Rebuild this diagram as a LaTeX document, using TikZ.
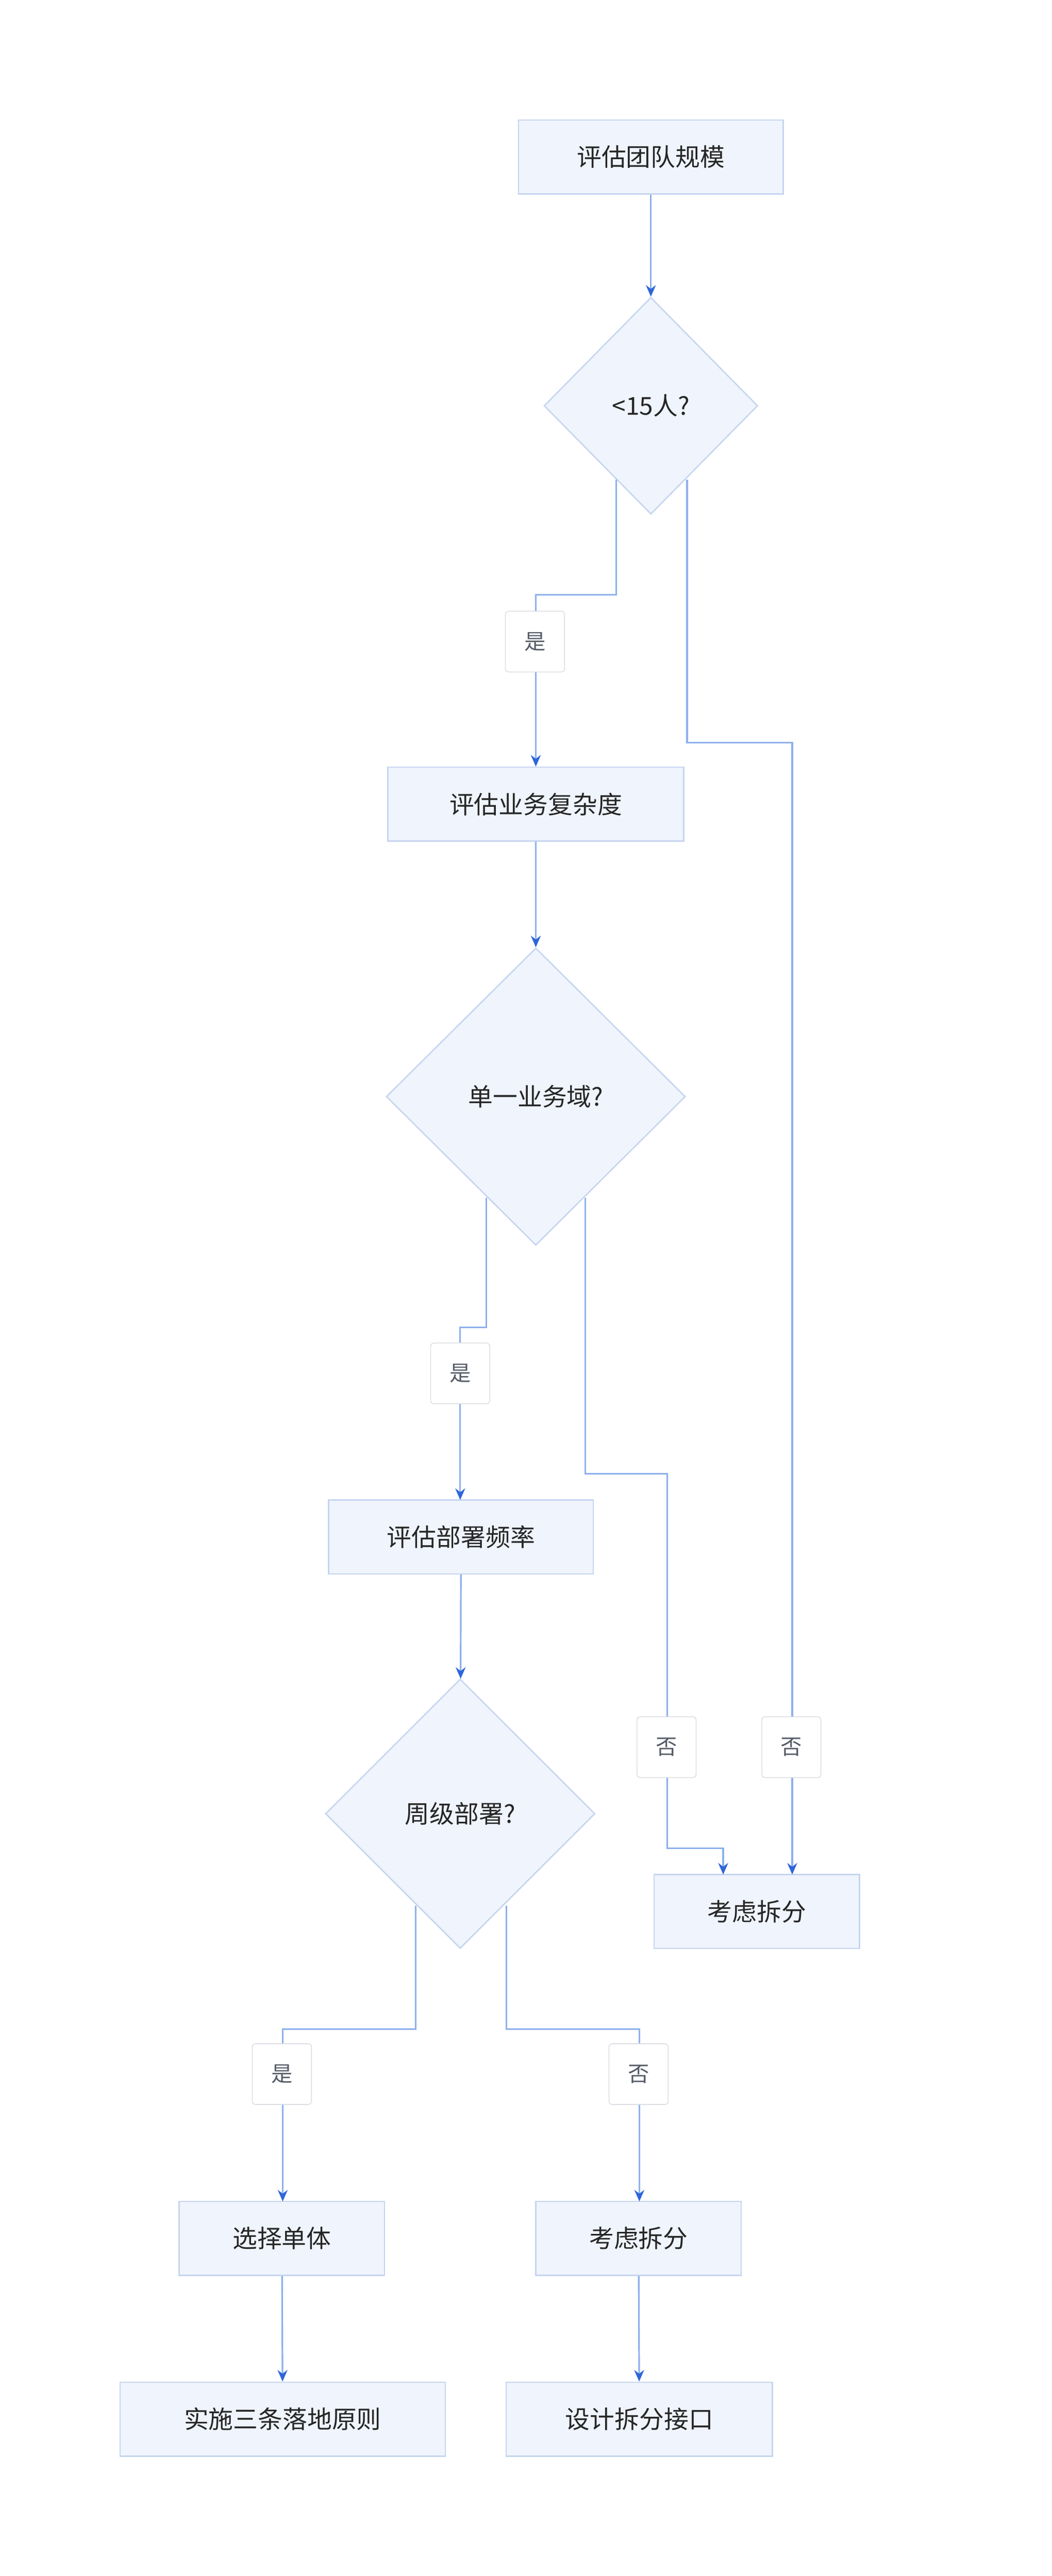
\documentclass[tikz,border=0pt]{standalone}
\usepackage{fontspec}
\setmainfont{Noto Sans CJK SC}
\usetikzlibrary{shapes.geometric,arrows.meta,calc}
\definecolor{nfill}{HTML}{EFF4FD}
\definecolor{nline}{HTML}{C6D5EF}
\definecolor{eline}{HTML}{8DB0EC}
\definecolor{arr}{HTML}{2E66D9}
\definecolor{lline}{HTML}{D5D8DE}
\definecolor{ltext}{HTML}{555B66}
\begin{document}
\begin{tikzpicture}[x=1pt,y=-1pt,
  box/.style={draw=nline,fill=nfill,line width=0.8pt,minimum height=45pt,inner sep=0,font=\fontsize{15}{18}\selectfont,text=black!85},
  dia/.style={draw=nline,fill=nfill,line width=0.8pt,diamond,inner sep=0,font=\fontsize{15}{18}\selectfont,text=black!85},
  lab/.style={draw=lline,fill=white,rounded corners=2pt,minimum width=36pt,minimum height=37pt,inner sep=0,font=\fontsize{13}{16}\selectfont,text=ltext},
  e/.style={draw=eline,line width=1pt,-{Stealth[length=7pt,width=6pt,color=arr]}}]
\useasboundingbox[fill=white] (0,0) rectangle (640,1568);
\node[box,minimum width=161pt] (a) at (396,95.5) {评估团队规模};
\node[dia,minimum width=130pt,minimum height=132pt] (d1) at (396,247) {<15人?};
\node[box,minimum width=180pt] (b) at (326,489.5) {评估业务复杂度};
\node[dia,minimum width=182pt,minimum height=181pt] (d2) at (326,667.5) {单一业务域?};
\node[box,minimum width=161pt] (c) at (280.5,935.5) {评估部署频率};
\node[dia,minimum width=164pt,minimum height=164pt] (d3) at (280,1104) {周级部署?};
\node[box,minimum width=125pt] (s1) at (460.5,1163.5) {考虑拆分};
\node[box,minimum width=125pt] (m) at (171.5,1362.5) {选择单体};
\node[box,minimum width=125pt] (s2) at (388.5,1362.5) {考虑拆分};
\node[box,minimum width=198pt] (p) at (172,1472.5) {实施三条落地原则};
\node[box,minimum width=162pt] (q) at (389,1472.5) {设计拆分接口};
\coordinate (d1l) at (375,292); \coordinate (d1r) at (418,292);
\coordinate (d2l) at (296,729); \coordinate (d2r) at (356,729);
\coordinate (d3l) at (253,1160); \coordinate (d3r) at (308,1160);
\draw[e] (a) -- (d1);
\draw[e] (d1l) |- (326,362) -- (b.north);
\draw[e] (d1r) |- (482,452) -- (482,1141);
\draw[e] (b) -- (d2);
\draw[e] (d2l) |- (280,808) -- (280,913);
\draw[e] (d2r) |- (406,897) |- (440,1125) -- (440,1141);
\draw[e] (c) -- (d3);
\draw[e] (d3l) |- (172,1235) -- (172,1340);
\draw[e] (d3r) |- (389,1235) -- (389,1340);
\draw[e] (m) -- (p);
\draw[e] (s2) -- (q);
\node[lab] (l1) at (325.5,390.5) {是};
\node[lab] (l2) at (280,836) {是};
\node[lab] (l3) at (405.5,1063.5) {否};
\node[lab] (l4) at (481.5,1063.5) {否};
\node[lab] (l5) at (171.5,1262.5) {是};
\node[lab] (l6) at (388.5,1262.5) {否};
\end{tikzpicture}
\end{document}
